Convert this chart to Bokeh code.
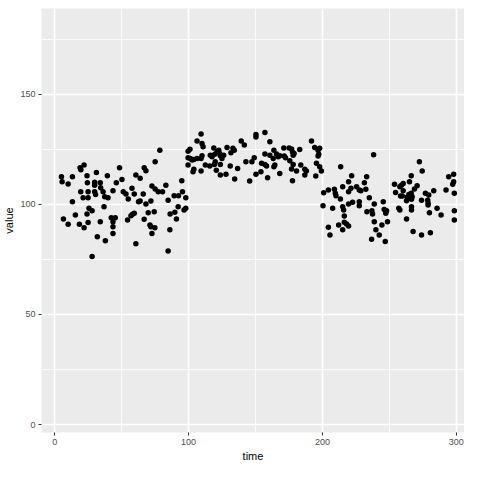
from bokeh.plotting import figure
from bokeh.models import Range1d, FixedTicker
from bokeh.embed import file_html
from bokeh.resources import INLINE

time_1 = [21.9, 18.9, 19.5, 48.4, 5, 5.5, 13.2, 10, 24.1, 24.4, 31.1, 39.3, 29.8, 29.8, 34, 34.3,
          46, 19.4, 24.9, 29.8, 36.1, 43.5, 21.2, 24.9, 30.5, 37.3, 39.8, 13.2, 36.8, 25.6, 27.9,
          15.4, 24.1, 6.5, 42.2, 45.2, 34, 43.5, 10, 18.4, 21.9, 24.9, 43.5, 43.5, 31.8, 37.8, 27.9]
value_1 = [117.8, 116.6, 115.7, 116.6, 112.5, 110.2, 112.5, 109.2, 113, 109.8, 114.4, 113, 110, 108.7,
           109.8, 107.5, 109.8, 105.7, 105.7, 105.7, 105.7, 106.2, 103, 103, 104.5, 103.4, 103, 101.2,
           98.9, 98.2, 97.1, 95.2, 95.6, 93.3, 93.9, 93.9, 92.1, 92.1, 90.9, 90.9, 89.4, 91.7, 89.8,
           86.7, 85.3, 83.4, 76.3]

time_2 = [78.5, 75, 99.6, 99.6, 99.6, 66.8, 68.1, 60.6, 63.8, 50.2, 94.9, 83, 72.6, 75, 77.3, 80.5,
          57.7, 51.2, 53.2, 59.4, 66.1, 95.4, 89.2, 92.4, 97.9, 54.9, 62.6, 63.8, 71.8, 68.1, 84.7,
          92.2, 97.9, 96.6, 69.8, 74.3, 86.2, 89.7, 58.1, 56.9, 59.4, 54.4, 66.8, 90.9, 71.1, 71.8,
          74.8, 86, 72.6, 60.6, 84.7]
value_2 = [124.6, 119.3, 124.1, 121.1, 117.8, 116.6, 115.2, 113.3, 111.8, 111.3, 110.7, 108.7, 108.3,
           106.9, 105.7, 105.7, 107.3, 105.7, 104.7, 104.7, 104.7, 105.7, 103.9, 103.9, 103, 102.4,
           101.2, 101.5, 101.5, 100.1, 101.9, 98.9, 98.2, 97.4, 96.2, 96.6, 95.6, 96.4, 95.5, 94.8,
           95.9, 92.9, 93.2, 93.3, 90.6, 89.8, 89.4, 88.4, 86.7, 82.1, 78.8]

time_3 = [109.3, 106.3, 110, 110.8, 150.3, 150.3, 139.3, 141.6, 118.8, 128.7, 133.1, 134.1, 131.6,
          122.5, 121.2, 123.2, 106.3, 103.9, 102.6, 110, 109.3, 116.2, 117.5, 119.5, 123.7, 124.9,
          126.2, 103.9, 103.3, 109.3, 112.5, 115.8, 119.9, 119.2, 123.7, 120.7, 123.7, 127.9, 131.1,
          136.6, 134.4, 142.8, 147.3, 149, 150.3, 145.6, 101, 101.3]
value_3 = [131.9, 128.8, 127.6, 126.1, 131.7, 130.6, 128.8, 126.9, 125.6, 125.8, 125.4, 124.6, 123.4,
           124.6, 123.8, 123.1, 120.8, 120.4, 120.1, 122, 120.8, 122.3, 121.6, 122.7, 122, 120.8,
           122.3, 115.9, 114.8, 115.1, 117.8, 117.4, 119.3, 118.1, 118.1, 115.5, 113.3, 113.7, 117.4,
           116.3, 111.5, 119.3, 119.3, 121.1, 113.6, 110.6, 125, 120.8]

time_4 = [157, 160.7, 191.8, 194.2, 196.7, 197.9, 197.2, 196.7, 171.1, 175.1, 176.9, 177.6, 178.8,
          178.1, 183, 163.7, 157, 160.7, 163.2, 165.7, 166.9, 168.1, 171.4, 172.4, 175.6, 154.5,
          157, 158.2, 164.4, 163.7, 178.1, 183.8, 195.5, 197.9, 176.9, 180.6, 186.8, 188, 186.8,
          154, 168.1, 159, 195, 199.2, 177.6, 200.9, 200.4]
value_4 = [132.6, 128.4, 128.8, 125.8, 124.6, 125.4, 122.7, 121.9, 125.6, 125.6, 125.1, 123.8, 123.1,
           122.3, 124.9, 124.6, 122.8, 122.3, 120.8, 122.8, 121.6, 122, 121.9, 121.1, 119.8, 118.6,
           118.1, 117.4, 117.8, 117, 118.1, 117.8, 118.6, 117, 116, 115.1, 115.9, 115.1, 113.3,
           114.8, 114, 112.1, 112.8, 115.1, 110.7, 105.3, 99.4]

time_5 = [238.2, 213.6, 221.8, 233, 219.5, 231.3, 215.1, 225.5, 221.3, 219.5, 227.5, 228.7, 232.4,
          204.4, 208.9, 209.6, 210.1, 213.4, 235, 245.4, 219.5, 222.5, 227.5, 227.5, 238.7, 207.6,
          215.1, 215.8, 233.2, 236.9, 237.4, 246.1, 247.9, 247.3, 216.3, 216.3, 218, 212.1, 219.5,
          238.7, 244.4, 248.6, 204.4, 215.1, 239.9, 242.4, 205.6, 236.7, 246.9]
value_5 = [122.5, 117, 113, 112.5, 110.2, 109.8, 108, 108, 107.3, 105.7, 106.5, 106.2, 106.8,
           106.5, 106.8, 105, 103.9, 102.4, 103, 101.2, 100.1, 100.9, 101.2, 99.4, 100.1, 98.2,
           98.9, 97.4, 96.6, 97.1, 95.6, 97.7, 97.1, 95.9, 94.7, 91.8, 91.1, 90.6, 90.2,
           92.1, 90.6, 92.1, 89.6, 88.4, 88.4, 86.1, 86.1, 84.1, 83.1]

time_6 = [272.4, 274.5, 294.3, 298, 266.3, 298, 297.3, 253.8, 257.8, 259, 260.3, 265, 270.7, 268.7,
          254.6, 260.3, 258.3, 259.6, 264.5, 266.3, 267, 263.3, 262.8, 266.5, 274, 276.9, 279.4,
          278.6, 278.9, 278.9, 283.1, 292.3, 298.5, 257, 257.8, 266.5, 266.5, 285.6, 279.9, 288.6,
          298.5, 262.8, 298.5, 267.7, 274, 280.6]
value_6 = [119.3, 115.1, 112.5, 113.6, 113, 110.2, 109.1, 109.1, 108, 108.7, 109.5, 110.2, 108.4,
           106.9, 105.4, 106.2, 103.8, 103.8, 104.5, 105, 103.4, 103.2, 101.6, 102.3, 101.9, 105,
           104.2, 101.9, 100.5, 99.7, 106.2, 106.5, 105, 98.2, 97.4, 98.9, 97.4, 98.2, 96.2, 95.2,
           97.1, 93.3, 92.9, 87.6, 86.1, 87.1]

x_ticks = [0, 100, 200, 300]
x_minor = [-50, 50, 150, 250, 350]
y_ticks = [0, 50, 100, 150]
y_minor = [25, 75, 125, 175]

time = time_1 + time_2 + time_3 + time_4 + time_5 + time_6
value = value_1 + value_2 + value_3 + value_4 + value_5 + value_6

p = figure(width=464, height=464, output_backend="svg", toolbar_location=None,
           x_range=Range1d(-9.9, 306.1), y_range=Range1d(-3.6, 188.9),
           min_border_left=40, min_border_right=0, min_border_top=8, min_border_bottom=31)
p.background_fill_color = "#EBEBEB"
p.border_fill_color = "white"
p.outline_line_color = None

p.xaxis.ticker = FixedTicker(ticks=x_ticks, minor_ticks=x_minor)
p.yaxis.ticker = FixedTicker(ticks=y_ticks, minor_ticks=y_minor)

p.grid.grid_line_color = "white"
p.grid.grid_line_width = 1.6
p.grid.minor_grid_line_color = "white"
p.grid.minor_grid_line_width = 0.8

p.scatter(time, value, size=5.5, fill_color="black", line_color=None)

for ax in (p.xaxis, p.yaxis):
    ax.axis_line_color = None
    ax.major_tick_line_color = "#333333"
    ax.major_tick_out = 3
    ax.major_tick_in = 0
    ax.minor_tick_line_color = None
    ax.major_label_text_font = "Liberation Sans"
    ax.major_label_text_font_size = "9px"
    ax.major_label_text_color = "#4D4D4D"
    ax.major_label_standoff = 2
    ax.axis_label_text_font = "Liberation Sans"
    ax.axis_label_text_font_size = "11px"
    ax.axis_label_text_font_style = "normal"
    ax.axis_label_text_color = "black"
    ax.axis_label_standoff = 2

p.xaxis.axis_label = "time"
p.yaxis.axis_label = "value"

open("out.html", "w").write(file_html(p, INLINE))
